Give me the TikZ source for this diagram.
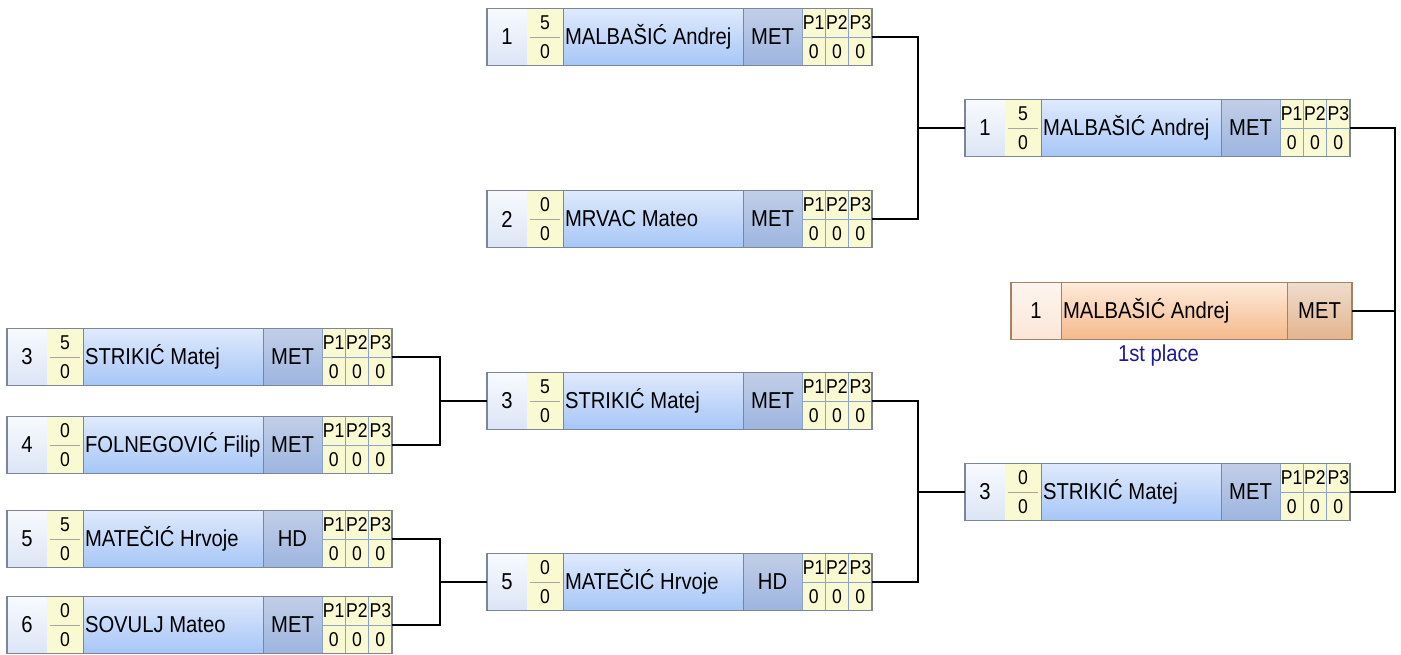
\documentclass[tikz,border=0pt]{standalone}
\usepackage{fontspec}
\usepackage{graphicx}
\setmainfont{Liberation Sans}
\usetikzlibrary{positioning}

\definecolor{frame}{HTML}{7C8698}
\definecolor{seedtop}{HTML}{F8FAFE}
\definecolor{seedbot}{HTML}{DCE5F6}
\definecolor{scorefill}{HTML}{FAFAD2}
\definecolor{nametop}{HTML}{DFEAFC}
\definecolor{namebot}{HTML}{A6C6F7}
\definecolor{clubtop}{HTML}{C2CEE7}
\definecolor{clubbot}{HTML}{9DB5E0}
\definecolor{pframe}{HTML}{8EA3CB}
\definecolor{winframe}{HTML}{A58266}
\definecolor{winseedtop}{HTML}{FEF5EE}
\definecolor{winseedbot}{HTML}{FBE6D8}
\definecolor{winnametop}{HTML}{FEEBDB}
\definecolor{winnamebot}{HTML}{F5B98B}
\definecolor{winclubtop}{HTML}{EFDCCD}
\definecolor{winclubbot}{HTML}{E4B48E}
\definecolor{placeblue}{HTML}{1C1C96}

\newcommand{\squeeze}[1]{\scalebox{0.88}[1]{#1}}

\tikzset{
  cell/.style={inner sep=0pt, outer sep=0pt, minimum height=57pt, line width=0.8pt},
  big/.style={font=\fontsize{23}{27}\selectfont},
  small/.style={font=\fontsize{20}{23}\selectfont},
  entry box/.style={cell, minimum width=385pt},
  seed cell/.style={cell, big, draw=frame, minimum width=40pt, top color=seedtop, bottom color=seedbot},
  score cell/.style={cell, small, minimum width=36pt, minimum height=28.5pt, fill=scorefill},
  name cell/.style={cell, big, draw=frame, minimum width=180pt, top color=nametop, bottom color=namebot},
  club cell/.style={cell, big, draw=frame, minimum width=59pt, top color=clubtop, bottom color=clubbot},
  p cell/.style={cell, small, draw=pframe, minimum width=23.33pt, minimum height=28.5pt, fill=scorefill},
  score rule/.style={draw=gray!70, line width=0.8pt},
  box border/.style={draw=frame, line width=1.5pt},
  link/.style={draw=black, line width=2pt}
}

% name, position, seed, score top, score bottom, player, club
\newcommand{\entry}[7]{%
  \node[entry box] (#1) at (#2) {};
  \node[seed cell, anchor=north west] (#1-seed) at (#1.north west) {\squeeze{#3}};
  \node[score cell, anchor=north west] (#1-s1) at (#1-seed.north east) {\squeeze{#4}};
  \node[score cell, anchor=north west] (#1-s2) at (#1-s1.south west) {\squeeze{#5}};
  \draw[score rule] ([xshift=3pt]#1-s1.south west) -- ([xshift=-3pt]#1-s1.south east);
  \node[name cell, anchor=north west] (#1-name) at (#1-s1.north east) {\makebox[176pt][l]{\squeeze{#6}}};
  \node[club cell, anchor=north west] (#1-club) at (#1-name.north east) {\squeeze{#7}};
  \foreach \k [count=\c from 0] in {1,2,3}{
    \node[p cell, anchor=north west] (#1-p\k) at ([xshift=\c*23.33pt]#1-club.north east) {\squeeze{P\k}};
    \node[p cell, anchor=north west] (#1-q\k) at (#1-p\k.south west) {\squeeze{0}};
  }
  \draw[box border] (#1.south west) rectangle (#1.north east);
}

\begin{document}
\begin{tikzpicture}[x=1pt, y=-1pt]
  \useasboundingbox (0,0) rectangle (1401,654);
  % first round
  \entry{l3}{199.5,357}{3}{5}{0}{STRIKIĆ Matej}{MET}
  \entry{l4}{199.5,445}{4}{0}{0}{FOLNEGOVIĆ Filip}{MET}
  \entry{l5}{199.5,539}{5}{5}{0}{MATEČIĆ Hrvoje}{HD}
  \entry{l6}{199.5,625}{6}{0}{0}{SOVULJ Mateo}{MET}
  % second round
  \entry{m1}{679.5,37}{1}{5}{0}{MALBAŠIĆ Andrej}{MET}
  \entry{m2}{679.5,219}{2}{0}{0}{MRVAC Mateo}{MET}
  \entry{m3}{679.5,401}{3}{5}{0}{STRIKIĆ Matej}{MET}
  \entry{m5}{679.5,582}{5}{0}{0}{MATEČIĆ Hrvoje}{HD}
  % final
  \entry{r1}{1157.5,128}{1}{5}{0}{MALBAŠIĆ Andrej}{MET}
  \entry{r3}{1157.5,492}{3}{0}{0}{STRIKIĆ Matej}{MET}
  % winner
  \node[cell, minimum width=341pt] (win) at (1181.5,311) {};
  \node[seed cell, draw=winframe, minimum width=50pt, top color=winseedtop, bottom color=winseedbot, anchor=north west] (win-seed) at (win.north west) {\squeeze{1}};
  \node[name cell, draw=winframe, minimum width=226pt, top color=winnametop, bottom color=winnamebot, anchor=north west] (win-name) at (win-seed.north east) {\makebox[222pt][l]{\squeeze{MALBAŠIĆ Andrej}}};
  \node[club cell, draw=winframe, minimum width=65pt, top color=winclubtop, bottom color=winclubbot, anchor=north west] (win-club) at (win-name.north east) {\squeeze{MET}};
  \draw[box border, draw=winframe] (win.south west) rectangle (win.north east);
  \node[big, text=placeblue, below=2pt of win.south, xshift=-23pt] (place) {\squeeze{1st place}};
  % connectors
  \coordinate (ja) at (440,401);
  \coordinate (jb) at (440,582);
  \coordinate (jc) at (918,128);
  \coordinate (jd) at (918,492);
  \coordinate (je) at (1395,311);
  \draw[link] (l3.east) -| (ja) |- (l4.east);
  \draw[link] (ja) -- (m3.west);
  \draw[link] (l5.east) -| (jb) |- (l6.east);
  \draw[link] (jb) -- (m5.west);
  \draw[link] (m1.east) -| (jc) |- (m2.east);
  \draw[link] (jc) -- (r1.west);
  \draw[link] (m3.east) -| (jd) |- (m5.east);
  \draw[link] (jd) -- (r3.west);
  \draw[link] (r1.east) -| (je) |- (r3.east);
  \draw[link] (win.east) -- (je);
\end{tikzpicture}
\end{document}
